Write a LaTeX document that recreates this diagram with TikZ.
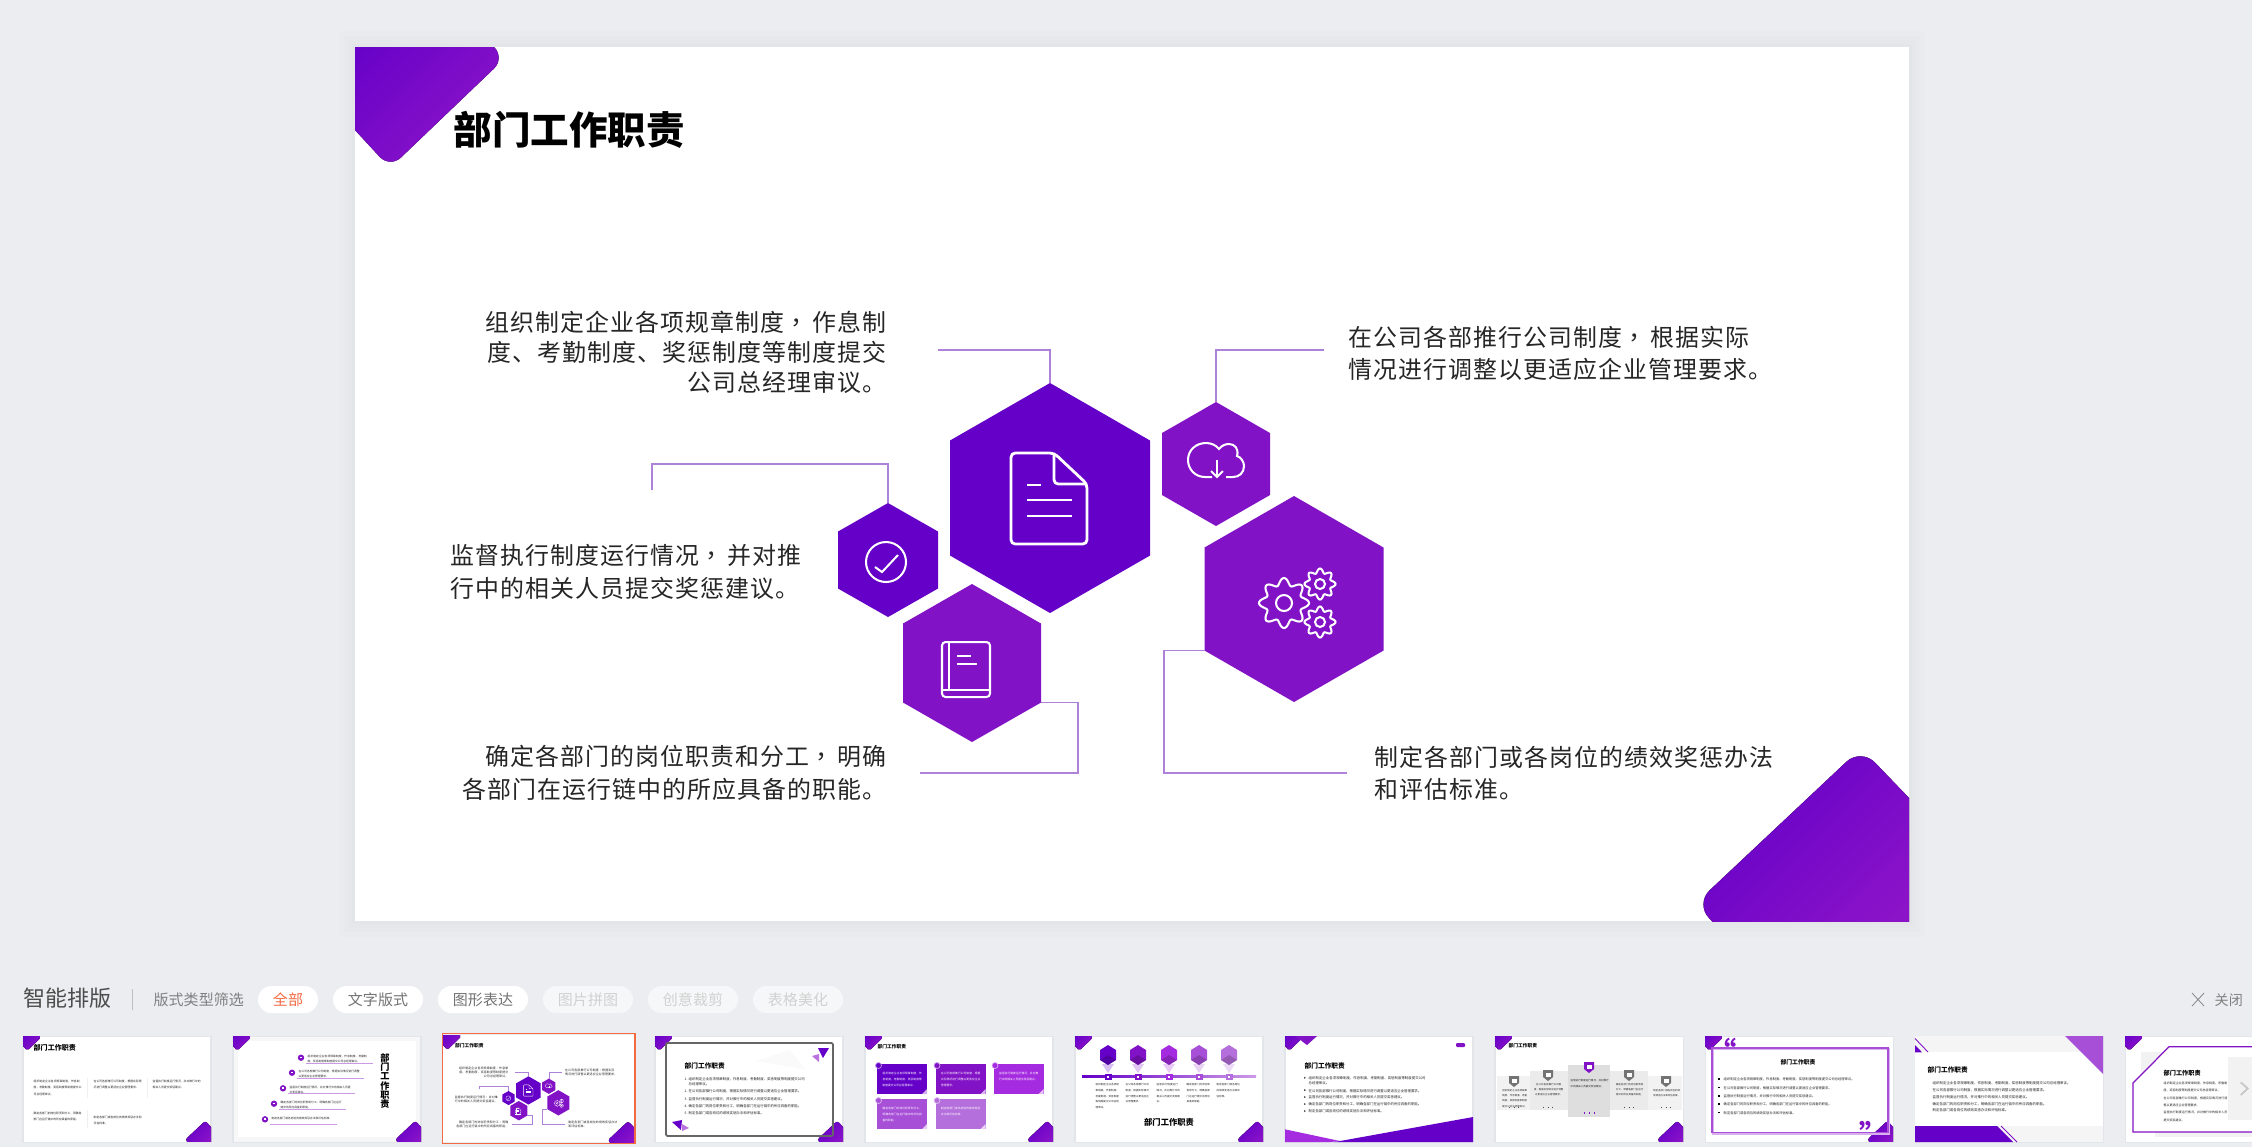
\documentclass[tikz,border=0pt]{standalone}
\usepackage{fontspec}
\setmainfont{Noto Sans CJK SC}
\newfontfamily\slidefont{Noto Sans CJK SC}[LetterSpace=4.5]
\newfontfamily\commafont{Noto Sans CJK TC}[LetterSpace=4.5]
\XeTeXlinebreaklocale "zh"
\XeTeXlinebreakskip=0pt plus .05pt
\definecolor{pagebg}{HTML}{EBEDF0}
\definecolor{hexdark}{HTML}{6400C8}
\definecolor{hexlight}{HTML}{8212C6}
\definecolor{cornerlight}{HTML}{8C14C8}
\definecolor{connpurple}{HTML}{AD82D8}
\definecolor{bodyink}{HTML}{262626}
\definecolor{thumbink}{HTML}{222222}
\definecolor{accentorange}{HTML}{F26B43}
\definecolor{cardedge}{HTML}{E2E5EA}
\definecolor{softpurple}{HTML}{A84FD8}
\definecolor{palepurple}{HTML}{B56FDC}
\definecolor{brightpurple}{HTML}{A52BE0}
\newcommand{\paraA}{组织制定企业各项规章制度，作息制度、考勤制度、奖惩制度等制度提交公司总经理审议。}
\newcommand{\paraB}{在公司各部推行公司制度，根据实际情况进行调整以更适应企业管理要求。}
\newcommand{\paraC}{监督执行制度运行情况，并对推行中的相关人员提交奖惩建议。}
\newcommand{\paraD}{确定各部门的岗位职责和分工，明确各部门在运行链中的所应具备的职能。}
\newcommand{\paraE}{制定各部门或各岗位的绩效奖惩办法和评估标准。}
\newcommand{\headtext}{部门工作职责}
\newcommand{\midcomma}{{\commafont ，}\kern1.1pt}
\tikzset{
  connline/.style={connpurple,line width=.43pt},
  iconline/.style={white,line width=.8pt,rounded corners=1.2pt},
  iconthin/.style={iconline,line width=.58pt,rounded corners=0pt},
  bodytxt/.style={font=\slidefont\fontsize{6.8}{#1}\selectfont,text=bodyink,inner sep=0pt},
  slidehead/.style={font=\fontsize{10.95}{13}\selectfont\bfseries,text=black,inner sep=0pt,anchor=west},
  thumbhead/.style={font=\fontsize{#1}{#1}\selectfont\bfseries,text=black,inner sep=0pt,anchor=west},
  thumbtxt/.style={font=\fontsize{.8}{1.9}\selectfont,text=thumbink,inner sep=0pt,anchor=north west,align=left,text width=#1cm},
  thumblist/.style={font=\fontsize{.97}{1.5}\selectfont,text=thumbink,inner sep=0pt,anchor=north west,align=left,text width=#1cm},
  pill/.style={fill=white,rounded corners=3.8pt,minimum height=.27cm,inner sep=0pt,font=\fontsize{4.27}{5}\selectfont},
}
\newcommand{\hexcell}[6]{%
  \fill[#6] (#2,#3-#5) -- (#2+#4,#3-#5/2) -- (#2+#4,#3+#5/2) -- (#2,#3+#5) -- (#2-#4,#3+#5/2) -- (#2-#4,#3-#5/2) -- cycle;
  \coordinate (#1-top) at (#2,#3-#5);
  \coordinate (#1-lowright) at (#2+#4,#3+#5/2);
  \coordinate (#1-lowleft) at (#2-#4,#3+#5/2);
}
\newcommand{\gearicon}[4]{%
  \draw[iconthin] plot[domain=0:360,samples=121] ({#1+#3*(.86+.14*cos(8*\x))*cos(\x)},{#2+#3*(.86+.14*cos(8*\x))*sin(\x)});
  \draw[iconthin] (#1,#2) circle (#4);
}
\newcommand{\slidecorners}[2]{%
  \begin{scope}
  \clip (0,0) rectangle (1554,874);
  \fill[left color=hexdark,right color=cornerlight,shading angle=45,rounded corners=#1] (95,-44) -- (150,11) -- (35,121) -- (-25,56) -- (-25,-44) -- cycle;
  \fill[left color=hexdark,right color=cornerlight,shading angle=45,rounded corners=#2] (1506,701) -- (1580,778) -- (1580,900) -- (1383,900) -- (1340,857) -- cycle;
  \end{scope}
}
\newcommand{\slidebody}{%
  \node[slidehead] (slidetitle) at (453,130) {\headtext};
  \node[bodytxt=8.54,anchor=east,align=right] (txtdoc) at (887,352) {组织制定企业各项规章制度\midcomma 作息制\\度、考勤制度、奖惩制度等制度提交\\公司总经理审议。};
  \node[bodytxt=9.2,anchor=west,align=left] (txtcloud) at (1348,353.5) {在公司各部推行公司制度\midcomma 根据实际\\情况进行调整以更适应企业管理要求。};
  \node[bodytxt=9.2,anchor=west,align=left] (txtcheck) at (450,572) {监督执行制度运行情况\midcomma 并对推\\行中的相关人员提交奖惩建议。};
  \node[bodytxt=9.2,anchor=east,align=right] (txtbook) at (887,773) {确定各部门的岗位职责和分工\midcomma 明确\\各部门在运行链中的所应具备的职能。};
  \node[bodytxt=9.2,anchor=west,align=left] (txtgears) at (1374,773) {制定各部门或各岗位的绩效奖惩办法\\和评估标准。};
  \hexcell{hexdoc}{1050}{498}{100}{115}{hexdark}
  \hexcell{hexcloud}{1216}{464}{54}{62}{hexlight}
  \hexcell{hexgears}{1294}{599}{89.5}{103}{hexlight}
  \hexcell{hexcheck}{888}{560}{50}{57}{hexdark}
  \hexcell{hexbook}{972}{663}{69}{79}{hexlight}
  \coordinate (docfree) at (938,350);
  \coordinate (cloudfree) at (1324,350);
  \coordinate (checkfree) at (652,490);
  \coordinate (checkbend) at (652,464);
  \coordinate (bookfree) at (920,773);
  \coordinate (bookbend) at (1078,773);
  \coordinate (gearsfree) at (1347,773);
  \coordinate (gearsbend) at (1164,773);
  \draw[connline] (docfree) -| (hexdoc-top);
  \draw[connline] (cloudfree) -| (hexcloud-top);
  \draw[connline] (checkfree) -- (checkbend) -| (hexcheck-top);
  \draw[connline] (bookfree) -- (bookbend) |- (hexbook-lowright);
  \draw[connline] (gearsfree) -- (gearsbend) |- (hexgears-lowleft);
  \draw[iconline] (1054,453) -- (1011,453) -- (1011,544) -- (1087,544) -- (1087,484) -- cycle;
  \draw[iconline] (1054,453) -- (1054,484) -- (1087,484);
  \draw[iconline] (1027,485) -- (1041,485);
  \draw[iconline] (1027,500) -- (1072,500);
  \draw[iconline] (1027,516) -- (1072,516);
  \draw[iconthin] (886,562) circle (20);
  \draw[iconthin] (875,567) -- (882,572) -- (898,555);
  \draw[iconthin] (1212,477) -- (1205,477) .. controls (1195,477) and (1188,469) .. (1188,460) .. controls (1188,450) and (1196,443) .. (1206,443) .. controls (1211,443) and (1216,445) .. (1219,449) .. controls (1222,445) and (1226,444) .. (1229,444) .. controls (1235,444) and (1239,449) .. (1237,456) .. controls (1241,457) and (1244,462) .. (1244,466) .. controls (1244,473) and (1239,477) .. (1233,477) -- (1226,477);
  \draw[iconthin] (1217,460) -- (1217,477);
  \draw[iconthin] (1211,471) -- (1217,477) -- (1223,471);
  \draw[iconthin,rounded corners=1pt] (942,697) -- (942,642) -- (990,642) -- (990,697) -- cycle;
  \draw[iconthin] (949,642) -- (949,690);
  \draw[iconthin] (942,690) -- (990,690);
  \draw[iconthin] (957,656) -- (971,656);
  \draw[iconthin] (957,664) -- (977,664);
  \gearicon{1284}{603}{25}{8}
  \gearicon{1320}{584}{15.5}{5}
  \gearicon{1320}{622}{15.5}{5}
}
\newcommand{\cardbg}{%
  \fill[white,draw=cardedge,line width=.3pt] (0,0) rectangle (188,106);
}
\newcommand{\thumbcorners}{%
  \begin{scope}[scale=.121]
  \slidecorners{.5pt}{.7pt}
  \end{scope}
}
\newcommand{\shieldicon}[3]{%
  \fill[#3] (#1-5,#2-5) -- (#1+5,#2-5) -- (#1+5,#2+2) -- (#1,#2+6) -- (#1-5,#2+2) -- cycle;
  \fill[white] (#1-2.5,#2-2.5) rectangle (#1+2.5,#2+1.5);
}
\begin{document}
\begin{tikzpicture}[x=.01cm,y=-.01cm]
\useasboundingbox (0,0) rectangle (2252,1147);
\fill[pagebg] (0,0) rectangle (2252,1147);
\foreach \w in {16,11,7,3} \fill[black,opacity=.008] (355-\w,47-\w) rectangle (1909+\w,921+\w);
\fill[white] (355,47) rectangle (1909,921);
\begin{scope}[shift={(355,47)}]
\slidecorners{4.3pt}{5.7pt}
\end{scope}
\slidebody
\node[inner sep=0pt,anchor=west,text=black!70,font=\fontsize{6.26}{7}\selectfont] (bartitle) at (23,998) {智能排版};
\coordinate (bardivtop) at (132,989);
\coordinate (bardivbot) at (132,1010);
\draw[black!25,line width=.2pt] (bardivtop) -- (bardivbot);
\node[inner sep=0pt,anchor=west,text=black!50,font=\fontsize{4.27}{5}\selectfont] (barfilter) at (153,1000) {版式类型筛选};
\node[pill,minimum width=.6cm,text=accentorange] (pillall) at (288,999.5) {全部};
\foreach \n/\cx/\lab in {a/378/文字版式,b/483/图形表达}
  \node[pill,minimum width=.9cm,text=black!55] (pill\n) at (\cx,999.5) {\lab};
\foreach \n/\cx/\lab in {c/588/图片拼图,d/693/创意裁剪,e/798/表格美化}
  \node[pill,minimum width=.9cm,fill=white!55!pagebg,text=black!18] (pill\n) at (\cx,999.5) {\lab};
\draw[black!45,line width=.25pt] (2192,993) -- (2204,1006) (2204,993) -- (2192,1006);
\node[inner sep=0pt,anchor=west,text=black!50,font=\fontsize{4}{5}\selectfont] (barclose) at (2214,1000) {关闭};
\begin{scope}[shift={(23,1036)}]
\cardbg
\thumbcorners
\node[thumbhead=2] (onehead) at (10,12) {\headtext};
\foreach \n/\x/\y/\para in {a/10/43/\paraA,b/70/43/\paraB,c/129/43/\paraC,d/10/75/\paraD,e/70/79/\paraE}
  \node[thumbtxt=.48] (one\n) at (\x,\y) {\para};
\draw[black!6,line width=.2pt] (64,42) -- (64,62) (124,42) -- (124,62) (64,74) -- (64,92);
\end{scope}
\begin{scope}[shift={(233,1036)}]
\fill[black!3,draw=cardedge,line width=.3pt] (0,0) rectangle (188,106);
\fill[white] (5,5) rectangle (183,101);
\thumbcorners
\node[thumbhead=2.6,align=center,anchor=north] (twohead) at (152,17) {部\\门\\工\\作\\职\\责};
\foreach \n/\x/\y/\para in {a/68/21.7/\paraA,b/59/36.7/\paraB,c/50/52.3/\paraC,d/41/67.7/\paraD,e/32/83.3/\paraE}{
  \node[thumblist=.62,font=\fontsize{.78}{1.35}\selectfont] (two\n) at (\x+6,\y-3) {\para};
  \fill[hexlight] (\x,\y) circle (3.2);
  \fill[white] (\x-1.4,\y-1) rectangle (\x+1.4,\y+.7);
  \draw[palepurple!70,line width=.25pt] (\x+5,\y+5.6) -- (\x+72,\y+5.6);
}
\end{scope}
\begin{scope}[shift={(399.4,1029.2)},scale=.1229,connline/.style={connpurple,line width=.12pt},iconline/.style={white,line width=.1pt,rounded corners=.15pt},iconthin/.style={white,line width=.08pt},every node/.append style={transform shape}]
\fill[white] (355,47) rectangle (1909,921);
\begin{scope}[shift={(355,47)}]
\slidecorners{.5pt}{.7pt}
\end{scope}
\slidebody
\draw[accentorange,line width=.3pt] (347,38) rectangle (1917,927);
\end{scope}
\begin{scope}[shift={(655,1036)}]
\cardbg
\thumbcorners
\fill[black!2] (100,25) -- (135,14) -- (150,33) -- cycle;
\draw[black!60,line width=.5pt,rounded corners=.4pt] (11,7) rectangle (178,100);
\node[thumbhead=1.9] (fourhead) at (29,30) {\headtext};
\foreach \n/\y/\para/\num in {a/40.5/\paraA/1,b/52.8/\paraB/2,c/60.3/\paraC/3,d/67.5/\paraD/4,e/75/\paraE/5}{
  \node[thumblist=1.16] (four\n) at (33,\y) {\para};
  \node[thumblist=.04] (fournum\n) at (29,\y) {\num.};
}
\fill[hexdark] (163,12) -- (174,12) -- (168,22) -- cycle;
\fill[softpurple!80] (157,20) -- (164,18) -- (164,26) -- cycle;
\fill[hexdark] (17,86) -- (27,84) -- (26,94) -- cycle;
\fill[softpurple!80] (27,88) -- (34,92) -- (27,95) -- cycle;
\end{scope}
\begin{scope}[shift={(865,1036)}]
\cardbg
\thumbcorners
\node[thumbhead=1.35] (fivehead) at (12,10.7) {\headtext};
\foreach \n/\x/\y/\col/\para in {a/12/28/hexdark/\paraA,b/70.5/28/hexlight/\paraB,c/128.5/28/brightpurple/\paraC,d/12/63/softpurple/\paraD,e/70.5/63/palepurple/\paraE}{
  \fill[\col] (\x,\y) rectangle (\x+50,\y+30);
  \fill[white!70!\col] (\x+50,\y+30) -- (\x+45,\y+30) -- (\x+50,\y+25) -- cycle;
  \draw[white!60!\col,fill=\col,line width=.2pt] (\x+1.5,\y+1.5) circle (3);
  \node[thumbtxt=.41,text=white,font=\fontsize{.78}{1.7}\selectfont] (five\n) at (\x+5,\y+7) {\para};
}
\end{scope}
\begin{scope}[shift={(1075,1036)}]
\cardbg
\thumbcorners
\node[thumbhead=2.35,anchor=center] (sixhead) at (94,86) {\headtext};
\fill[left color=hexdark,right color=palepurple!70] (7,39.8) rectangle (181,41.6);
\foreach \n/\x/\col/\para in {a/33/hexdark/\paraA,b/63/hexlight/\paraB,c/94/brightpurple/\paraC,d/124/softpurple/\paraD,e/154/palepurple/\paraE}{
  \fill[\col!25] (\x-6,28) -- (\x+6,28) -- (\x,37) -- cycle;
  \hexcell{sixhex\n}{\x}{19}{8}{10}{\col}
  \fill[black,opacity=.18] (\x,19) -- (\x+8,24) -- (\x,29) -- (\x-8,24) -- cycle;
  \fill[\col] (\x-3.5,37.5) rectangle (\x+3.5,44);
  \fill[white] (\x-1.3,39.5) rectangle (\x+1.3,42);
  \node[thumbtxt=.25,font=\fontsize{.72}{1.6}\selectfont] (six\n) at (\x-13,47) {\para};
}
\end{scope}
\begin{scope}[shift={(1285,1036)}]
\cardbg
\begin{scope}[scale=.121]
\clip (0,0) rectangle (1554,874);
\fill[left color=hexdark,right color=hexlight,shading angle=45,rounded corners=.5pt] (95,-44) -- (150,11) -- (35,121) -- (-25,56) -- (-25,-44) -- cycle;
\end{scope}
\fill[hexlight] (11,0) -- (32,0) -- (22,9) -- (18,6) -- cycle;
\fill[hexlight,rounded corners=.3pt] (171,7) rectangle (180,11);
\node[thumbhead=1.9] (sevenhead) at (19,30) {\headtext};
\foreach \n/\y/\para in {a/40/\paraA,b/52.3/\paraB,c/59.2/\paraC,d/66.2/\paraD,e/73.2/\paraE}{
  \node[thumblist=1.18] (seven\n) at (23,\y) {\para};
  \fill[black!70] (19,\y+.8) -- (21,\y+1.8) -- (19,\y+2.8) -- cycle;
}
\fill[brightpurple] (0,93.3) -- (55,105) -- (45,106) -- (0,106) -- cycle;
\fill[hexdark] (55,105) -- (188,81) -- (188,106) -- (48,106) -- cycle;
\end{scope}
\begin{scope}[shift={(1495,1036)}]
\cardbg
\thumbcorners
\node[thumbhead=1.35] (eighthead) at (13,10) {\headtext};
\fill[black!5] (2,40) rectangle (187,74);
\fill[black!8] (35,35) rectangle (153,74);
\fill[black!13] (73,29) rectangle (115,81);
\foreach \n/\x/\y/\w/\para in {a/19/45/.3/\paraA,b/53/39/.32/\paraB,d/134/39/.32/\paraD,e/171/45/.28/\paraE}{
  \shieldicon{\x}{\y}{black!55}
  \node[thumbtxt=\w,align=center,font=\fontsize{.68}{1.45}\selectfont] (eight\n) at (\x-\w*50,\y+8) {\para};
  \coordinate (eightlab\n a) at (\x-5,71);
  \coordinate (eightlab\n b) at (\x+5,71);
  \draw[black!70,line width=.3pt,densely dotted] (eightlab\n a) -- (eightlab\n b);
}
\shieldicon{94}{31}{hexlight}
\node[thumbtxt=.38,align=left,font=\fontsize{.72}{1.5}\selectfont] (eightc) at (75,43) {\paraC};
\coordinate (eightlabcenter) at (89,77);
\coordinate (eightlabcentre) at (99,77);
\draw[hexlight,line width=.4pt,densely dotted] (eightlabcenter) -- (eightlabcentre);
\end{scope}
\begin{scope}[shift={(1705,1036)}]
\cardbg
\thumbcorners
\draw[softpurple!45,line width=.35pt] (8,13) rectangle (184,98);
\draw[softpurple,line width=.4pt] (7,12) rectangle (183,96.5);
\node[thumbhead=1.65,anchor=center] (ninehead) at (93,26) {\headtext};
\node[inner sep=0pt,text=hexlight,font=\fontsize{8}{8}\selectfont\bfseries] (ninequoteleft) at (18,14) {“};
\node[inner sep=0pt,text=hexlight,font=\fontsize{8}{8}\selectfont\bfseries] (ninequoteright) at (169,97) {”};
\foreach \n/\y/\para in {a/41/\paraA,b/49.3/\paraB,c/57.7/\paraC,d/66/\paraD,e/74.3/\paraE}{
  \node[thumblist=1.52,font=\fontsize{.93}{1.5}\selectfont] (nine\n) at (18,\y) {\para};
  \fill[black] (13,\y+1.3) rectangle (15,\y+3);
}
\end{scope}
\begin{scope}[shift={(1915,1036)}]
\cardbg
\fill[black!4] (0,0) rectangle (188,16);
\fill[black!4] (82,90) rectangle (188,106);
\fill[white] (0,16) rectangle (188,90);
\fill[softpurple] (150,0) -- (188,0) -- (188,38) -- cycle;
\fill[hexdark] (0,9) -- (7,16.3) -- (0,16.3) -- cycle;
\draw[hexlight,line width=.25pt] (0,2.5) -- (13,16);
\fill[hexdark] (0,90) -- (82,90) -- (98,106) -- (0,106) -- cycle;
\draw[hexlight,line width=.25pt] (86,90) -- (102,106);
\node[thumbhead=1.9] (tenhead) at (12,34) {\headtext};
\foreach \n/\y/\para in {a/45/\paraA,b/51.7/\paraB,c/58.7/\paraC,d/65.3/\paraD,e/72/\paraE}{
  \node[thumblist=1.5,font=\fontsize{.98}{1.5}\selectfont] (ten\n) at (17,\y) {\para};
}
\end{scope}
\begin{scope}[shift={(2125,1036)}]
\cardbg
\thumbcorners
\fill[black!5] (16,16) rectangle (60,60);
\fill[black!5] (30,90) rectangle (127,101);
\draw[hexlight,fill=white,line width=.35pt] (44,10.7) -- (130,10.7) -- (130,96) -- (8,96) -- (8,47) -- cycle;
\node[thumbhead=1.75] (elevenhead) at (38,37) {\headtext};
\node[thumbtxt=.65,font=\fontsize{.85}{2.1}\selectfont] (elevena) at (38,45) {\paraA\par\paraB\par\paraC};
\fill[black!5] (103,21) rectangle (130,84);
\draw[black!22,line width=.5pt] (115.7,46.3) -- (122.7,52.5) -- (115.7,59);
\end{scope}
\end{tikzpicture}
\end{document}
